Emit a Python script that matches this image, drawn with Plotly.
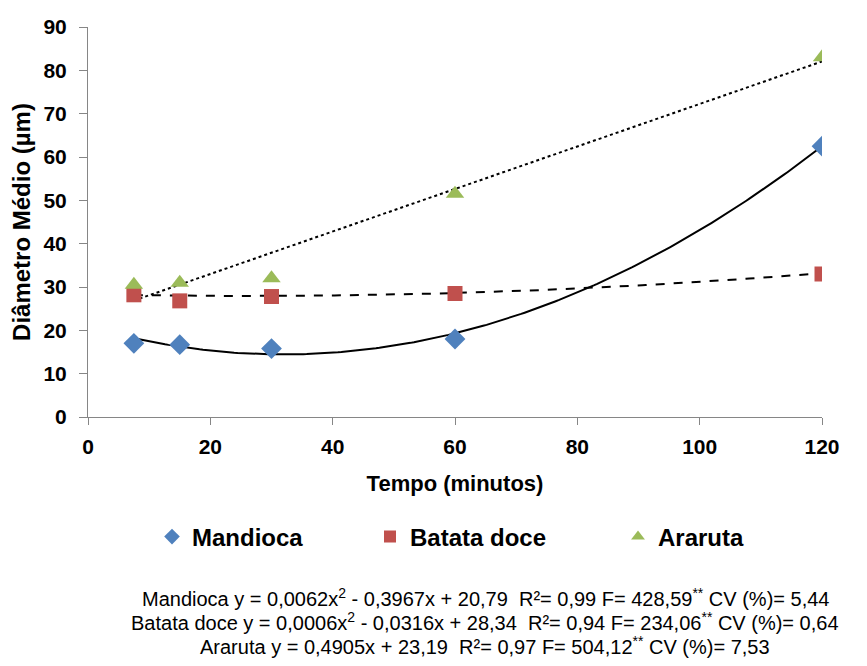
import numpy as np
import plotly.graph_objects as go

# ---- data ----
tempo = [7.5, 15, 30, 60, 120]
mandioca = [17.0, 16.7, 15.8, 18.0, 62.5]
batata_doce = [28.2, 26.8, 27.8, 28.5, 33.0]
araruta = [30.5, 31.0, 32.0, 51.5, 83.0]

# regression coefficients (highest degree first) from the equations
coef_mandioca = [0.0062, -0.3967, 20.79]
coef_batata = [0.0006, -0.0316, 28.34]
coef_araruta = [0.4905, 23.19]

equations = [
    "Mandioca y = 0,0062x<sup>2</sup> - 0,3967x + 20,79  R²= 0,99 F= 428,59<sup>**</sup> CV (%)= 5,44",
    "Batata doce y = 0,0006x<sup>2</sup> - 0,0316x + 28,34  R²= 0,94 F= 234,06<sup>**</sup> CV (%)= 0,64",
    "Araruta y = 0,4905x + 23,19  R²= 0,97 F= 504,12<sup>**</sup> CV (%)= 7,53",
]

FONT = "Liberation Sans, Arial, sans-serif"

# plot area in pixels
L, R, T, B = 88, 45, 27, 249
W, H = 867, 666
PW, PH = W - L - R, H - T - B


def px_x(p):
    return (p - L) / PW


def px_y(p):
    return (H - B - p) / PH


xs = np.linspace(min(tempo), max(tempo), 200)

fig = go.Figure()

# trend lines
fig.add_trace(go.Scatter(x=xs, y=np.polyval(coef_mandioca, xs), mode="lines",
                         line=dict(color="black", width=2), showlegend=False, hoverinfo="skip"))
fig.add_trace(go.Scatter(x=xs, y=np.polyval(coef_batata, xs), mode="lines",
                         line=dict(color="black", width=2, dash="dash"), showlegend=False, hoverinfo="skip"))
fig.add_trace(go.Scatter(x=xs, y=np.polyval(coef_araruta, xs), mode="lines",
                         line=dict(color="black", width=2, dash="dot"), showlegend=False, hoverinfo="skip"))

# markers
fig.add_trace(go.Scatter(x=tempo, y=mandioca, mode="markers", name="Mandioca", legend="legend",
                         marker=dict(symbol="diamond", size=16, color="#4F81BD")))
fig.add_trace(go.Scatter(x=tempo, y=batata_doce, mode="markers", name="Batata doce", legend="legend2",
                         marker=dict(symbol="square", size=15, color="#C0504D")))
fig.add_trace(go.Scatter(x=tempo, y=araruta, mode="markers", name="Araruta", legend="legend3",
                         marker=dict(symbol="triangle-up", size=16, color="#9BBB59")))

axis_common = dict(showline=True, linecolor="#868686", linewidth=1, ticks="outside",
                   tickcolor="#868686", showgrid=False, zeroline=False,
                   tickfont=dict(family=FONT, size=21, color="black", weight="bold"))

fig.update_xaxes(range=[0, 120], dtick=20, tick0=0, ticklen=7, ticklabelstandoff=4,
                 title=dict(text="Tempo (minutos)", font=dict(family=FONT, size=22, color="black", weight="bold"),
                            standoff=18),
                 **axis_common)
fig.update_yaxes(range=[0, 90], dtick=10, tick0=0, ticklen=8, ticklabelstandoff=8,
                 title=dict(text="Diâmetro Médio (µm)", font=dict(family=FONT, size=24, color="black", weight="bold"),
                            standoff=6),
                 **axis_common)

for i, eq in enumerate(equations):
    fig.add_annotation(text=eq, xref="paper", yref="paper", x=px_x(485), y=px_y(597 + 24 * i),
                       yanchor="middle", xanchor="center", showarrow=False,
                       font=dict(family=FONT, size=20, color="black"))

leg_font = dict(family=FONT, size=24, color="black", weight="bold")
leg_common = dict(orientation="h", xanchor="left", yanchor="middle", y=px_y(537),
                  font=leg_font, itemsizing="constant", bgcolor="rgba(0,0,0,0)")

fig.update_layout(
    width=W, height=H,
    margin=dict(l=L, r=R, t=T, b=B),
    plot_bgcolor="white", paper_bgcolor="white",
    legend=dict(x=px_x(152), **leg_common),
    legend2=dict(x=px_x(370), **leg_common),
    legend3=dict(x=px_x(618), **leg_common),
)

fig.write_html("out.html")
